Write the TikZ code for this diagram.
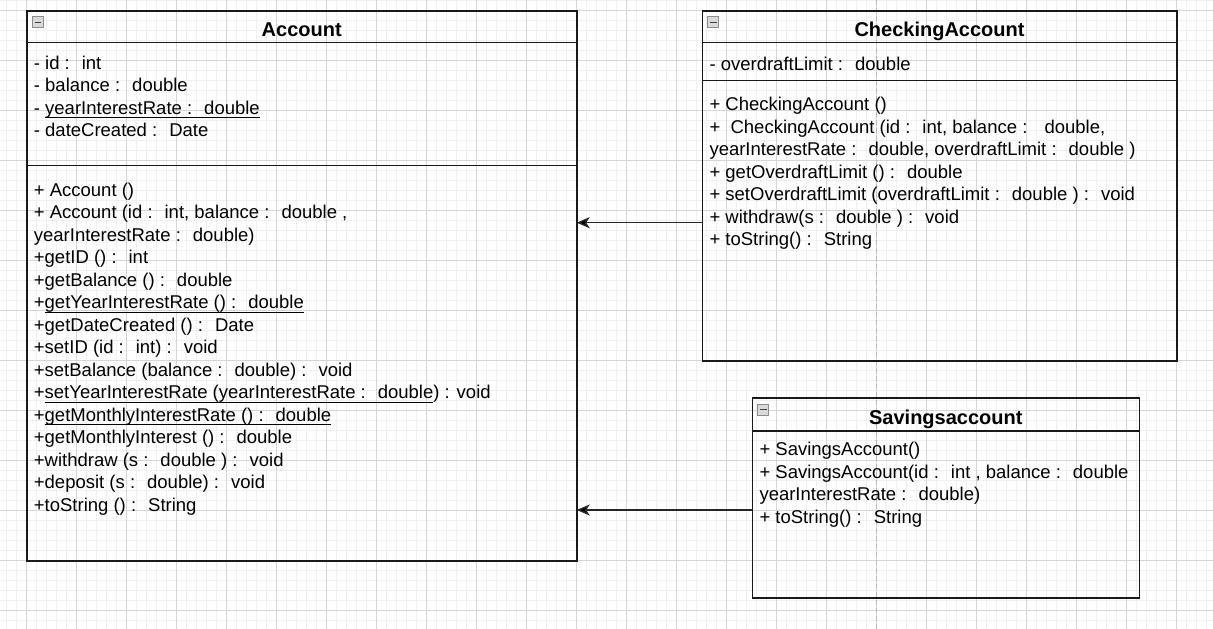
\documentclass[tikz,border=0pt]{standalone}
\usepackage{fontspec}
\setmainfont{Liberation Sans}
\usepackage{tikz}
\usetikzlibrary{positioning,arrows.meta}
\newsavebox{\ulinbox}
\newcommand{\ulin}[1]{\sbox{\ulinbox}{#1}\rlap{\rule[-4pt]{\wd\ulinbox}{1pt}}\usebox{\ulinbox}}
\newcommand{\bodyfont}{\fontsize{18.5}{22.5}\selectfont}

\begin{document}
\begin{tikzpicture}[x=1pt, y=-1pt,
    minor/.style={gray!12, line width=1pt},
    major/.style={gray!32, line width=0.9pt},
    pageline/.style={gray!55, line width=1.3pt, dash pattern=on 5pt off 3pt},
    hdr/.style={draw=black!90, line width=1.6pt, outer sep=0pt, anchor=north west,
        text height=20pt, text depth=0pt, font=\fontsize{20}{24}\selectfont\bfseries},
    part/.style={draw=black!90, line width=1.6pt, outer sep=0pt, below=0pt of #1},
    members/.style={anchor=north west, inner sep=0pt, align=left, font=\bodyfont,
        execute at begin node=\strut},
    icon/.style={draw=gray!90, fill=gray!30, line width=0.9pt, minimum size=11pt,
        inner sep=0pt, path picture={\draw[black!75, line width=1.2pt]
        ([xshift=-3.2pt]path picture bounding box.center) --
        ([xshift=3.2pt]path picture bounding box.center);}},
    inherit/.style={black!85, line width=1.4pt, -{Stealth[length=13pt, width=11pt, inset=3.5pt, fill=black]}}]

    \useasboundingbox (0,0) rectangle (1213,629);
    \fill[white] (0,0) rectangle (1213,629);

    % Grid
    \foreach \x in {6.5,16.5,...,1213} \draw[minor] (\x,0) -- (\x,629);
    \foreach \y in {0.5,10.5,...,629} \draw[minor] (0,\y) -- (1213,\y);
    \foreach \x in {26.5,76.5,...,1213} \draw[major] (\x,0) -- (\x,629);
    \foreach \y in {10.5,60.5,...,629} \draw[major] (0,\y) -- (1213,\y);
    \draw[pageline] (876.5,0) -- (876.5,629);

    % Account
    \node[hdr, minimum width=550pt, minimum height=31.6pt] (acc) at (26.7,10.7) {Account};
    \node[part=acc, minimum width=550pt, minimum height=123pt] (accattr) {};
    \node[part=accattr, minimum width=550pt, minimum height=395.4pt] (accops) {};
    \node[icon] (accicon) at ([shift={(11.3,11.5)}]acc.north west) {};
    \node[members] (accattrtxt) at ([shift={(7,13.3)}]accattr.north west)
        {- id :~ int\\
         - balance :~ double\\
         - \ulin{yearInterestRate :~ double}\\
         - dateCreated :~ Date};
    \node[members] (accopstxt) at ([shift={(7,17.5)}]accops.north west)
        {+ Account ()\\
         + Account (id :~ int, balance :~ double ,\\
         yearInterestRate :~ double)\\
         +getID () :~ int\\
         +getBalance () :~ double\\
         +\ulin{getYearInterestRate () :~ double}\\
         +getDateCreated () :~ Date\\
         +setID (id :~ int) :~ void\\
         +setBalance (balance :~ double) :~ void\\
         +\ulin{setYearInterestRate (yearInterestRate :~ double})~: void\\
         +\ulin{getMonthlyInterestRate () :~ double}\\
         +getMonthlyInterest () :~ double\\
         +withdraw (s :~ double ) :~ void\\
         +deposit (s :~ double) :~ void\\
         +toString () :~ String};

    % CheckingAccount
    \node[hdr, minimum width=474.4pt, minimum height=31.6pt] (chk) at (702.3,10.7) {CheckingAccount};
    \node[part=chk, minimum width=474.4pt, minimum height=38pt] (chkattr) {};
    \node[part=chkattr, minimum width=474.4pt, minimum height=280.4pt] (chkops) {};
    \node[icon] (chkicon) at ([shift={(11,11.5)}]chk.north west) {};
    \node[members] (chkattrtxt) at ([shift={(7,12.6)}]chkattr.north west)
        {- overdraftLimit :~ double};
    \node[members] (chkopstxt) at ([shift={(7,16.8)}]chkops.north west)
        {+ CheckingAccount ()\\
         +~ CheckingAccount (id :~ int, balance :~~ double,\\
         yearInterestRate :~ double, overdraftLimit :~ double )\\
         + getOverdraftLimit () :~ double\\
         + setOverdraftLimit (overdraftLimit :~ double ) :~ void\\
         + withdraw(s :~ double ) :~ void\\
         + toString() :~ String};

    % Savingsaccount
    \node[hdr, minimum width=387pt, minimum height=33pt] (sav) at (752.3,397.7) {Savingsaccount};
    \node[part=sav, minimum width=387pt, minimum height=167pt] (savops) {};
    \node[icon] (savicon) at ([shift={(11,12)}]sav.north west) {};
    \node[members] (savopstxt) at ([shift={(7,11.4)}]savops.north west)
        {+ SavingsAccount()\\
         + SavingsAccount(id :~ int , balance :~ double\\
         yearInterestRate :~ double)\\
         + toString() :~ String};

    % Generalisation
    \coordinate (chkarr) at ([yshift=-2.2pt]chkops.west);
    \coordinate (savarr) at ([yshift=4.2pt]savops.west);
    \draw[inherit] (chkarr) -- (chkarr -| accops.east);
    \draw[inherit] (savarr) -- (savarr -| accops.east);
\end{tikzpicture}
\end{document}
